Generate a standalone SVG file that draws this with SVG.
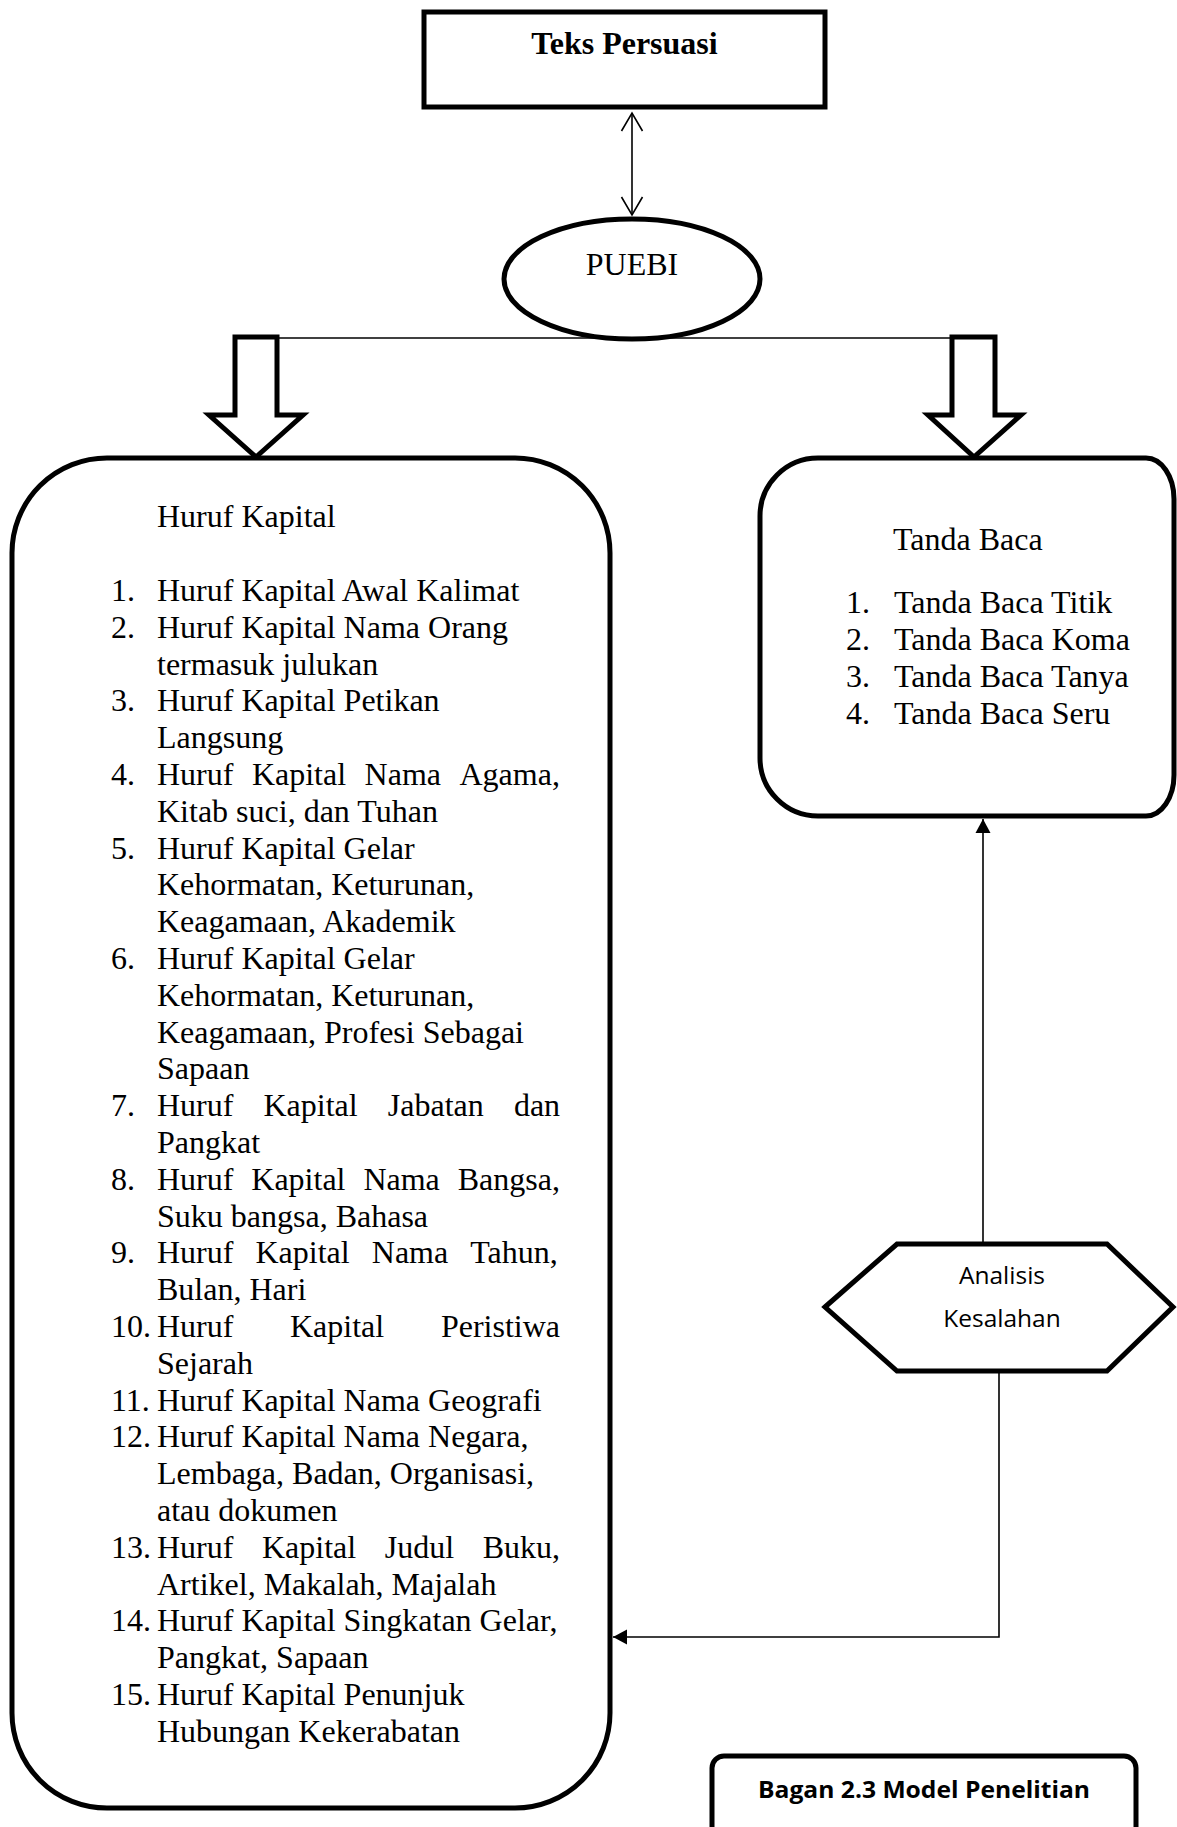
<svg xmlns="http://www.w3.org/2000/svg" width="1177" height="1827" viewBox="0 0 1177 1827">
<style>
.box{fill:#fff;stroke:#000;stroke-width:5}
.blk{fill:#fff;stroke:#000;stroke-width:5;stroke-linejoin:miter}
.t{font-family:"Liberation Serif","Times New Roman",serif;font-size:32px;fill:#000}
.b{font-weight:bold}
.s{font-family:"Open Sans","Noto Sans",sans-serif;fill:#000}
.c{fill:none;stroke:#000;stroke-width:1.6}
</style>
<defs>
<marker id="open" markerUnits="userSpaceOnUse" viewBox="-20 -12 22 24" refX="0" refY="0" markerWidth="22" markerHeight="24" orient="auto-start-reverse">
<path d="M-18,-10.5 L0,0 L-18,10.5" fill="none" stroke="#000" stroke-width="1.6"/>
</marker>
<marker id="fill" markerUnits="userSpaceOnUse" viewBox="-16 -9 17 18" refX="0" refY="0" markerWidth="17" markerHeight="18" orient="auto">
<path d="M-14,-7.5 L0,0 L-14,7.5 Z" fill="#000"/>
</marker>
</defs>
<rect width="1177" height="1827" fill="#fff"/>

<g id="connectors">
<line class="c" x1="632" y1="113" x2="632" y2="215" marker-start="url(#open)" marker-end="url(#open)"/>
<line class="c" x1="277" y1="338" x2="952" y2="338"/>
<polygon class="blk" points="235,337 277,337 277,415 303,415 256,457 209,415 235,415"/>
<polygon class="blk" points="952,337 995,337 995,415 1021,415 974,457 928,415 952,415"/>
<path class="c" d="M983,1244 L983,819" marker-end="url(#fill)"/>
<path class="c" d="M999,1371 L999,1637 L613,1637" marker-end="url(#fill)"/>
</g>

<g id="node-teks-persuasi">
<rect class="box" x="424" y="12" width="401" height="95"/>
<text class="t b" x="624.5" y="54" text-anchor="middle">Teks Persuasi</text>
</g>

<g id="node-puebi">
<ellipse class="box" cx="632" cy="279" rx="128" ry="60"/>
<text class="t" x="632" y="275" text-anchor="middle">PUEBI</text>
</g>

<g id="node-huruf-kapital">
<rect class="box" x="12" y="458" width="598" height="1350" rx="95" ry="95"/>
<text class="t" x="157" y="527">Huruf Kapital</text>
<text class="t" x="111" y="601">1.</text><text class="t" x="157" y="601">Huruf Kapital Awal Kalimat</text>
<text class="t" x="111" y="637.8">2.</text><text class="t" x="157" y="637.8">Huruf Kapital Nama Orang</text>
<text class="t" x="157" y="674.6">termasuk julukan</text>
<text class="t" x="111" y="711.4">3.</text><text class="t" x="157" y="711.4">Huruf Kapital Petikan</text>
<text class="t" x="157" y="748.2">Langsung</text>
<text class="t" x="111" y="785">4.</text><text class="t" y="785"><tspan x="157">Huruf</tspan><tspan x="251.9">Kapital</tspan><tspan x="364.6">Nama</tspan><tspan x="459.5">Agama,</tspan></text>
<text class="t" x="157" y="821.8">Kitab suci, dan Tuhan</text>
<text class="t" x="111" y="858.6">5.</text><text class="t" x="157" y="858.6">Huruf Kapital Gelar</text>
<text class="t" x="157" y="895.4">Kehormatan, Keturunan,</text>
<text class="t" x="157" y="932.2">Keagamaan, Akademik</text>
<text class="t" x="111" y="969">6.</text><text class="t" x="157" y="969">Huruf Kapital Gelar</text>
<text class="t" x="157" y="1005.8">Kehormatan, Keturunan,</text>
<text class="t" x="157" y="1042.6">Keagamaan, Profesi Sebagai</text>
<text class="t" x="157" y="1079.4">Sapaan</text>
<text class="t" x="111" y="1116.2">7.</text><text class="t" y="1116.2"><tspan x="157">Huruf</tspan><tspan x="263.5">Kapital</tspan><tspan x="387.8">Jabatan</tspan><tspan x="513.9">dan</tspan></text>
<text class="t" x="157" y="1153">Pangkat</text>
<text class="t" x="111" y="1189.8">8.</text><text class="t" y="1189.8"><tspan x="157">Huruf</tspan><tspan x="251.3">Kapital</tspan><tspan x="363.4">Nama</tspan><tspan x="457.7">Bangsa,</tspan></text>
<text class="t" x="157" y="1226.6">Suku bangsa, Bahasa</text>
<text class="t" x="111" y="1263.4">9.</text><text class="t" y="1263.4"><tspan x="157">Huruf</tspan><tspan x="255.5">Kapital</tspan><tspan x="371.8">Nama</tspan><tspan x="470.2">Tahun,</tspan></text>
<text class="t" x="157" y="1300.2">Bulan, Hari</text>
<text class="t" x="111" y="1337">10.</text><text class="t" y="1337"><tspan x="157">Huruf</tspan><tspan x="290">Kapital</tspan><tspan x="440.9">Peristiwa</tspan></text>
<text class="t" x="157" y="1373.8">Sejarah</text>
<text class="t" x="111" y="1410.6">11.</text><text class="t" x="157" y="1410.6">Huruf Kapital Nama Geografi</text>
<text class="t" x="111" y="1447.4">12.</text><text class="t" x="157" y="1447.4">Huruf Kapital Nama Negara,</text>
<text class="t" x="157" y="1484.2">Lembaga, Badan, Organisasi,</text>
<text class="t" x="157" y="1521">atau dokumen</text>
<text class="t" x="111" y="1557.8">13.</text><text class="t" y="1557.8"><tspan x="157">Huruf</tspan><tspan x="262">Kapital</tspan><tspan x="384.8">Judul</tspan><tspan x="482.7">Buku,</tspan></text>
<text class="t" x="157" y="1594.6">Artikel, Makalah, Majalah</text>
<text class="t" x="111" y="1631.4">14.</text><text class="t" x="157" y="1631.4">Huruf Kapital Singkatan Gelar,</text>
<text class="t" x="157" y="1668.2">Pangkat, Sapaan</text>
<text class="t" x="111" y="1705">15.</text><text class="t" x="157" y="1705">Huruf Kapital Penunjuk</text>
<text class="t" x="157" y="1741.8">Hubungan Kekerabatan</text>
</g>

<g id="node-tanda-baca">
<path class="box" d="M818,458 H1146 A28,41 0 0 1 1174,499 V775 A28,41 0 0 1 1146,816 H818 A58,58 0 0 1 760,758 V516 A58,58 0 0 1 818,458 Z"/>
<text class="t" x="893" y="550">Tanda Baca</text>
<text class="t" x="846" y="613">1.</text><text class="t" x="894" y="613">Tanda Baca Titik</text>
<text class="t" x="846" y="650">2.</text><text class="t" x="894" y="650">Tanda Baca Koma</text>
<text class="t" x="846" y="687">3.</text><text class="t" x="894" y="687">Tanda Baca Tanya</text>
<text class="t" x="846" y="724">4.</text><text class="t" x="894" y="724">Tanda Baca Seru</text>
</g>

<g id="node-analisis">
<polygon class="box" points="825,1307 897,1244 1107,1244 1173,1307 1107,1371 897,1371"/>
<text class="s" x="1002" y="1284" font-size="24.5" text-anchor="middle">Analisis</text>
<text class="s" x="1002" y="1327" font-size="24.5" text-anchor="middle">Kesalahan</text>
</g>

<g id="node-caption">
<rect class="box" x="712" y="1756" width="424" height="100" rx="12" ry="12"/>
<text class="s" x="924" y="1798" font-size="24" font-weight="bold" text-anchor="middle" textLength="332" lengthAdjust="spacingAndGlyphs">Bagan 2.3 Model Penelitian</text>
</g>
</svg>
